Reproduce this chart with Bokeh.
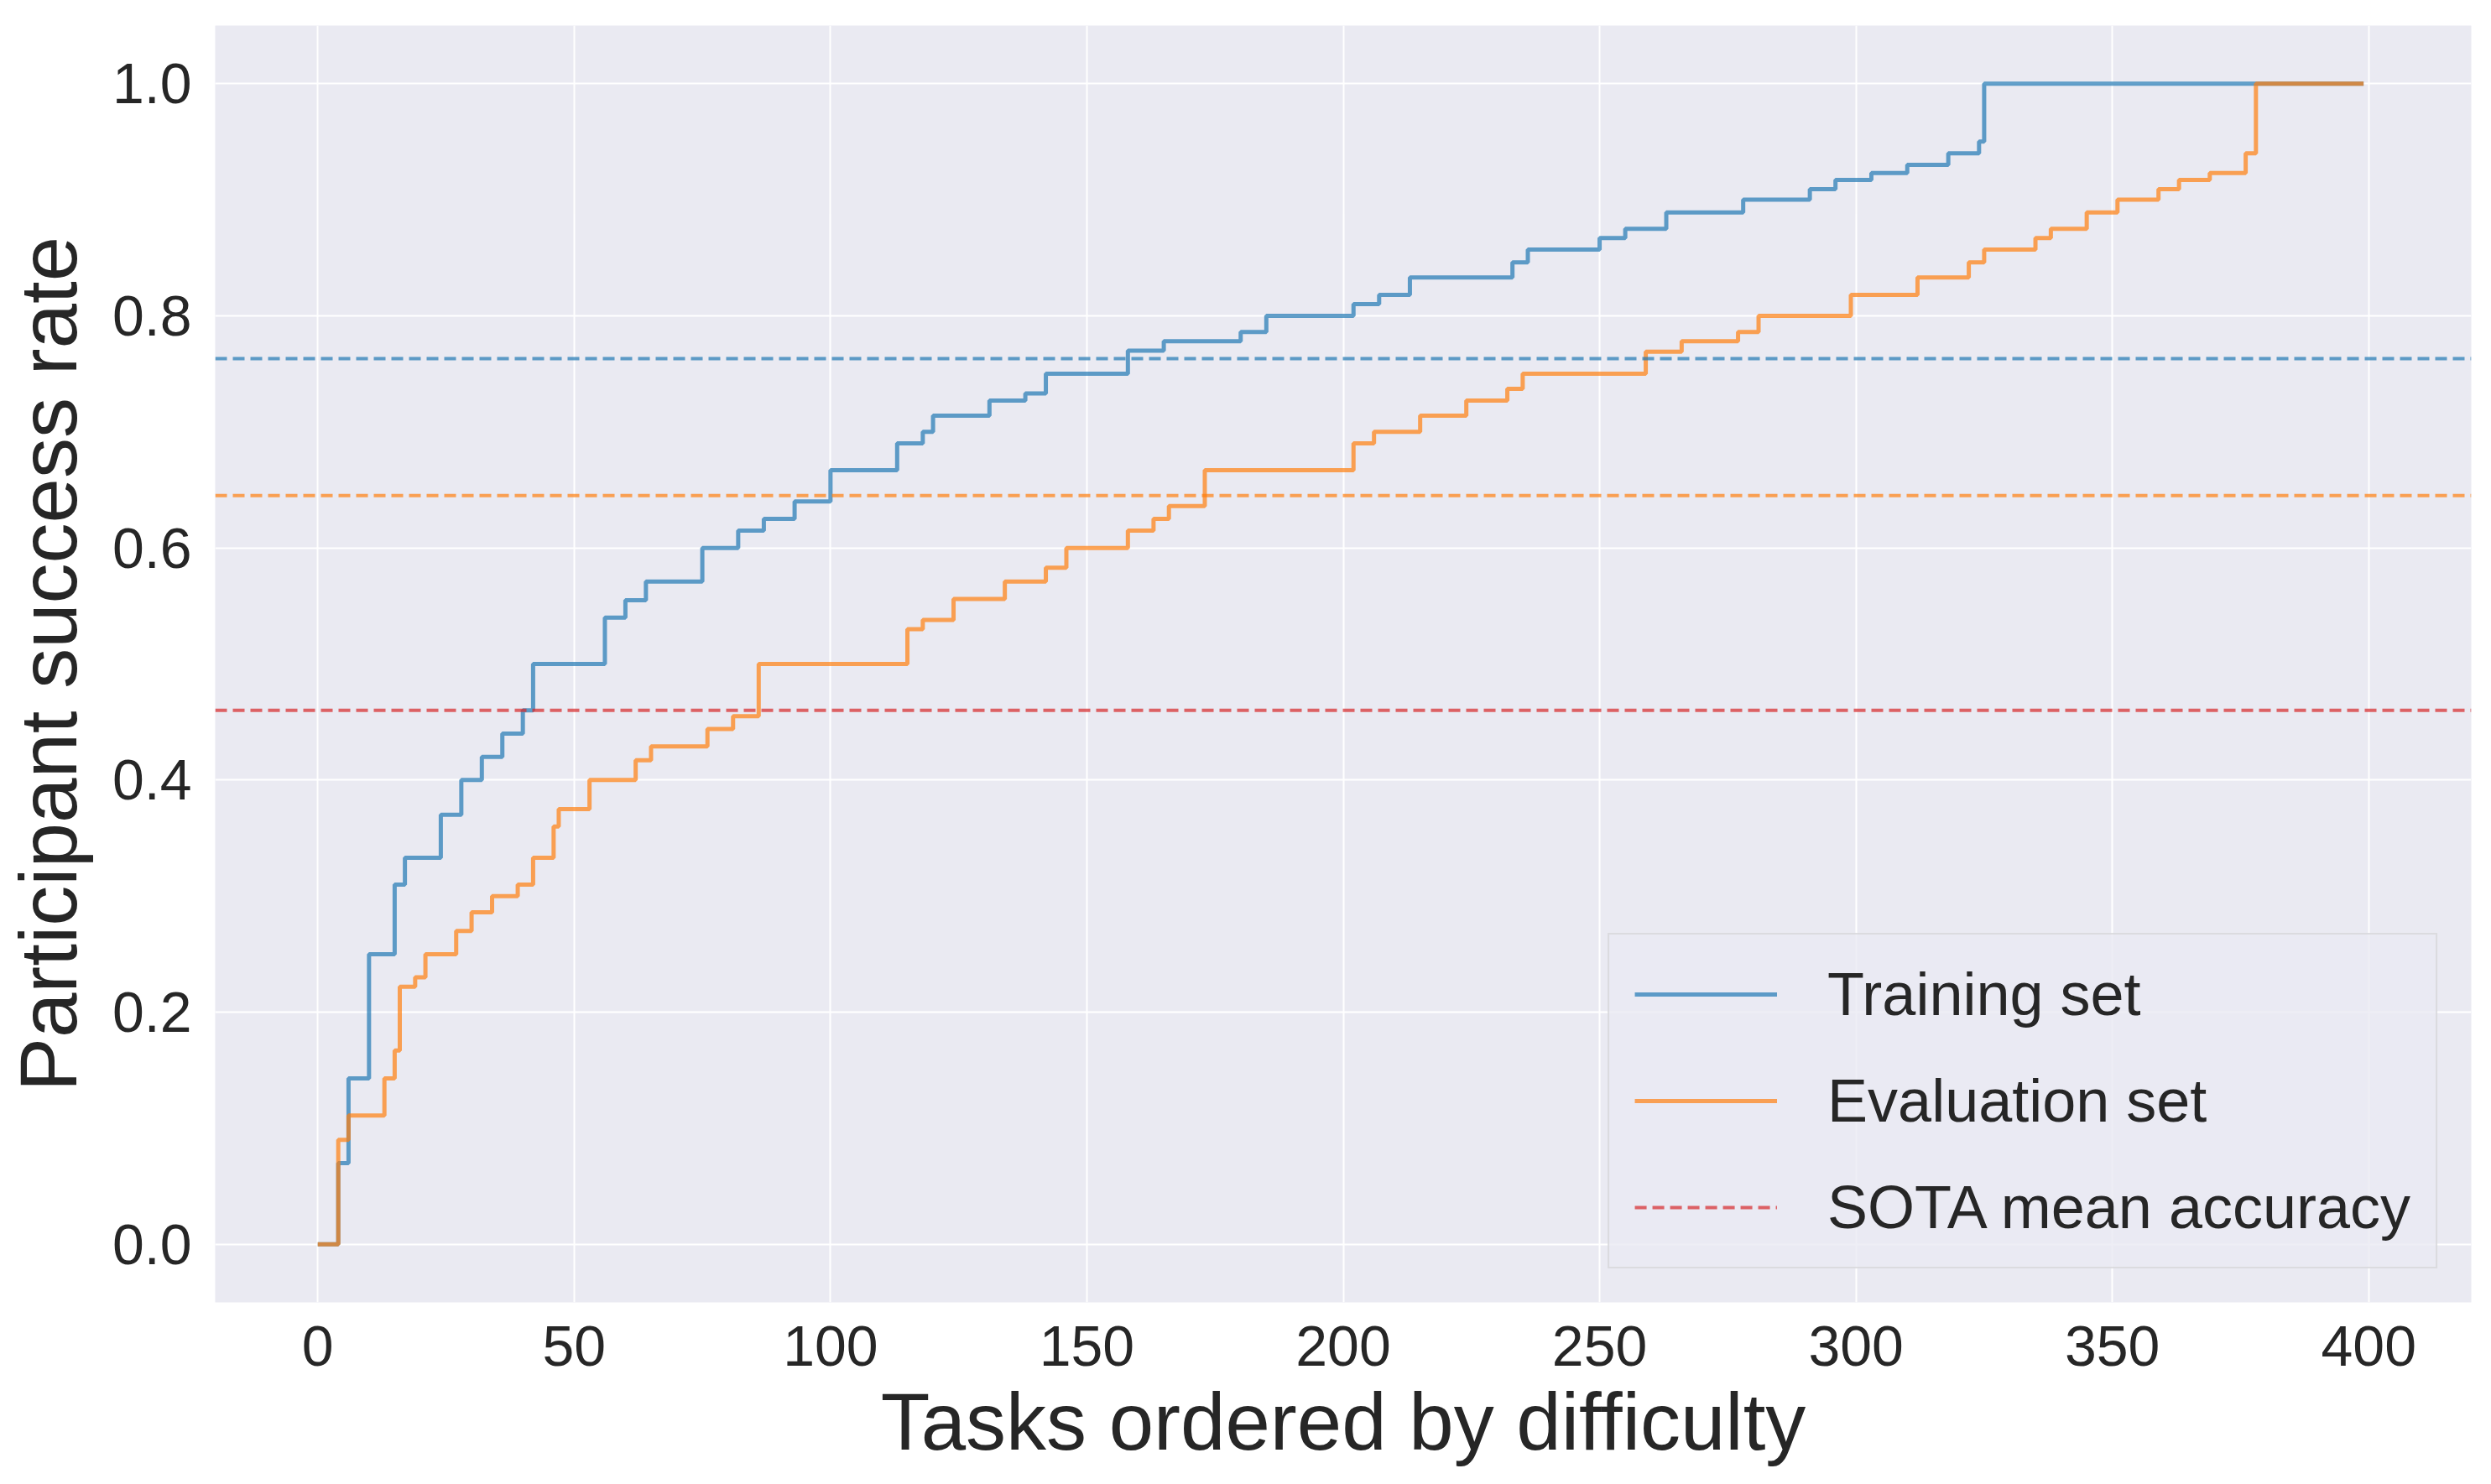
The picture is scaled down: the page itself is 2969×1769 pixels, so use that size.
from bokeh.plotting import figure
from bokeh.models import Range1d, Legend, LegendItem, NumeralTickFormatter
from bokeh.embed import file_html
from bokeh.resources import INLINE

# step breakpoints (task index, success rate)
train_x = [0, 4, 6, 10, 15, 17, 24, 28, 32, 36, 40, 42, 56, 60, 64, 75, 82, 87, 93, 100, 113, 118, 120, 131, 138, 142,
           158, 165, 180, 185, 202, 207, 213, 233, 236, 250, 255, 263, 278, 291, 296, 303, 310, 318, 324, 325, 399]
train_y = [0, 0.07, 0.143, 0.25, 0.31, 0.333, 0.37, 0.4, 0.42, 0.44, 0.46, 0.5, 0.54, 0.555, 0.571, 0.6, 0.615, 0.625,
           0.64, 0.667, 0.69, 0.7, 0.714, 0.727, 0.733, 0.75, 0.77, 0.778, 0.786, 0.8, 0.81, 0.818, 0.833, 0.846, 0.857,
           0.867, 0.875, 0.889, 0.9, 0.909, 0.917, 0.923, 0.93, 0.94, 0.95, 1.0, 1.0]
eval_x = [0, 4, 6, 13, 15, 16, 19, 21, 27, 30, 34, 39, 42, 46, 47, 53, 62, 65, 76, 81, 86, 115, 118, 124, 134, 142, 146,
          158, 163, 166, 173, 202, 206, 215, 224, 232, 235, 259, 266, 277, 281, 299, 312, 322, 325, 335, 338, 345, 351,
          359, 363, 369, 376, 378, 399]
eval_y = [0, 0.09, 0.111, 0.143, 0.167, 0.222, 0.23, 0.25, 0.27, 0.286, 0.3, 0.31, 0.333, 0.36, 0.375, 0.4, 0.417, 0.429,
          0.444, 0.455, 0.5, 0.53, 0.538, 0.556, 0.571, 0.583, 0.6, 0.615, 0.625, 0.636, 0.667, 0.69, 0.7, 0.714, 0.727,
          0.737, 0.75, 0.769, 0.778, 0.786, 0.8, 0.818, 0.833, 0.846, 0.857, 0.867, 0.875, 0.889, 0.9, 0.909, 0.917,
          0.923, 0.94, 1.0, 1.0]
train_mean = 0.763
eval_mean = 0.645
sota_mean = 0.46
x_lo, x_hi = -20, 420

FONT = "Liberation Sans"

p = figure(width=2950, height=1750, output_backend="svg", toolbar_location=None,
           x_range=Range1d(x_lo, x_hi), y_range=Range1d(-0.05, 1.05))
p.background_fill_color = "#EAEAF2"
p.border_fill_color = "white"
p.outline_line_color = None
p.grid.grid_line_color = "white"
p.grid.grid_line_width = 2
p.axis.axis_line_color = None
p.axis.major_tick_line_color = None
p.axis.minor_tick_line_color = None
p.axis.major_label_text_font_size = "68px"
p.axis.major_label_text_color = "#262626"
p.axis.major_label_text_font = FONT
p.axis.axis_label_text_font = FONT
p.axis.axis_label_text_font_size = "96px"
p.axis.axis_label_text_font_style = "normal"
p.axis.axis_label_text_color = "#262626"
p.xaxis.axis_label = "Tasks ordered by difficulty"
p.yaxis.axis_label = "Participant success rate"
p.xaxis.ticker = [0, 50, 100, 150, 200, 250, 300, 350, 400]
p.yaxis.ticker = [0, 0.2, 0.4, 0.6, 0.8, 1.0]
p.yaxis.formatter = NumeralTickFormatter(format="0.0")
p.xaxis.major_label_standoff = 22
p.yaxis.major_label_standoff = 22
p.xaxis.axis_label_standoff = 10
p.yaxis.axis_label_standoff = 20
p.min_border_left = 40
p.min_border_bottom = 30
p.min_border_top = 30

r1 = p.step(train_x, train_y, mode="after", line_color="#1f77b4", line_alpha=0.7, line_width=5)
r2 = p.step(eval_x, eval_y, mode="after", line_color="#ff7f0e", line_alpha=0.7, line_width=5)
p.line([x_lo, x_hi], [train_mean, train_mean], line_color="#1f77b4", line_alpha=0.7, line_width=4, line_dash="14 7")
p.line([x_lo, x_hi], [eval_mean, eval_mean], line_color="#ff7f0e", line_alpha=0.7, line_width=4, line_dash="14 7")
r3 = p.line([x_lo, x_hi], [sota_mean, sota_mean], line_color="#d62728", line_alpha=0.7, line_width=4, line_dash="14 7")

legend = Legend(items=[LegendItem(label="Training set", renderers=[r1]),
                       LegendItem(label="Evaluation set", renderers=[r2]),
                       LegendItem(label="SOTA mean accuracy", renderers=[r3])],
                location="bottom_right", label_text_font_size="72px", label_text_font=FONT,
                label_text_color="#262626", glyph_width=170, glyph_height=70, label_standoff=60,
                spacing=45, padding=30, margin=40, border_line_color="#cccccc", border_line_width=2,
                background_fill_color="#EAEAF2", background_fill_alpha=0.8)
p.add_layout(legend)

open("out.html", "w").write(file_html(p, INLINE))
